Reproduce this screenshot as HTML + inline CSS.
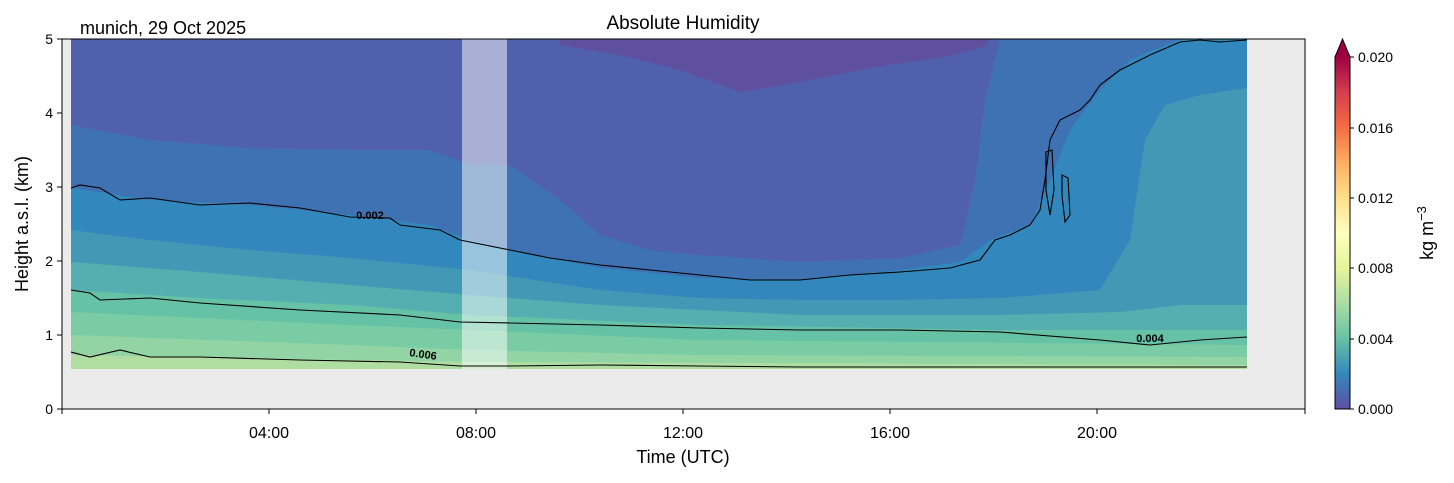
<!DOCTYPE html>
<html><head><meta charset="utf-8"><style>
body{margin:0;background:#fff;}
svg text{font-family:"Liberation Sans","DejaVu Sans",sans-serif;}
</style></head><body>
<svg width="1454" height="478" xmlns="http://www.w3.org/2000/svg">
<defs>
<linearGradient id="cb" x1="0" y1="1" x2="0" y2="0">
<stop offset="0" stop-color="#5e4fa2"/>
<stop offset="0.1" stop-color="#3288bd"/>
<stop offset="0.2" stop-color="#66c2a5"/>
<stop offset="0.3" stop-color="#abdda4"/>
<stop offset="0.4" stop-color="#e6f598"/>
<stop offset="0.5" stop-color="#ffffbf"/>
<stop offset="0.6" stop-color="#fee08b"/>
<stop offset="0.7" stop-color="#fdae61"/>
<stop offset="0.8" stop-color="#f46d43"/>
<stop offset="0.9" stop-color="#d53e4f"/>
<stop offset="1" stop-color="#9e0142"/>
</linearGradient>
<clipPath id="dc"><rect x="71" y="39" width="1176" height="330"/></clipPath>
</defs>
<rect x="62" y="39" width="1243" height="370" fill="#ebebeb"/>
<g clip-path="url(#dc)">
<rect x="71" y="39" width="1176" height="330" fill="#5060ad"/>
<polygon fill="#5f4f9f" points="560,39 560,45 620,55 680,70 740,92 800,82 880,66 950,56 985,46 990,39"/>
<polygon fill="#3f72b3" points="71,369 71,125 150,140 250,148 350,150 430,150 470,165 510,165 560,200 600,235 650,250 700,255 800,262 900,258 960,245 975,180 985,100 1000,39 1247,39 1247,369"/>
<polygon fill="#3288bc" points="71,369 71,188 150,200 250,205 350,215 430,225 470,240 510,250 600,268 700,278 800,280 900,270 960,262 990,240 1030,225 1050,180 1070,130 1100,90 1130,60 1180,39 1247,39 1247,369"/>
<polygon fill="#4399b5" points="71,369 71,230 150,240 250,250 350,258 470,270 600,290 700,298 800,300 900,300 1000,298 1100,290 1130,240 1145,140 1165,105 1200,95 1247,88 1247,369"/>
<polygon fill="#55aeaf" points="71,369 71,262 200,272 350,285 470,295 600,305 800,315 1000,315 1120,312 1180,305 1247,305 1247,369"/>
<polygon fill="#66c2a5" points="71,369 71,290 200,298 350,305 470,315 700,325 1000,330 1247,330 1247,369"/>
<polygon fill="#7acca4" points="71,369 71,312 350,325 470,330 700,340 1247,345 1247,369"/>
<polygon fill="#93d4a4" points="71,369 71,335 350,345 470,350 700,355 1247,357 1247,369"/>
<polygon fill="#b0dea2" points="71,369 71,355 470,362 1247,365 1247,369"/>
<rect x="462" y="39" width="45" height="330" fill="#fff" opacity="0.5"/>
<g fill="none" stroke="#000" stroke-width="1.1">
<polyline points="71,188 80,185 100,188 120,200 150,198 200,205 250,203 300,208 350,217 390,218 400,225 440,230 460,240 510,250 550,258 600,265 650,270 700,275 750,280 800,280 850,275 900,272 950,268 980,260 995,240 1010,235 1030,225 1040,210 1045,180 1050,140 1060,120 1080,110 1090,100 1100,85 1120,70 1150,55 1180,42 1200,40 1220,42 1247,40"/>
<path d="M1046,152 L1052,150 L1054,190 L1050,215 L1046,190 Z"/>
<path d="M1062,175 L1068,178 L1070,215 L1065,222 L1062,195 Z"/>
<polyline points="71,290 90,293 100,300 150,298 200,303 300,310 400,315 460,322 510,323 600,325 700,328 800,330 900,330 1000,332 1100,340 1150,345 1200,340 1247,337"/>
<polyline points="71,352 90,357 120,350 150,357 200,357 300,360 400,362 460,366 510,366 600,365 700,366 800,367 1000,367 1247,367"/>
</g>
<text x="370" y="219" font-size="11" font-weight="bold" text-anchor="middle">0.002</text>
<text x="1150" y="342" font-size="11" font-weight="bold" text-anchor="middle">0.004</text>
<text x="423" y="358" font-size="11" font-weight="bold" text-anchor="middle" transform="rotate(8 423 355)">0.006</text>
</g>
<rect x="62" y="39" width="1243" height="370" fill="none" stroke="#000" stroke-width="1"/>
<g stroke="#000" stroke-width="1">
<line x1="57" y1="409" x2="62" y2="409"/><line x1="57" y1="335" x2="62" y2="335"/><line x1="57" y1="261" x2="62" y2="261"/><line x1="57" y1="187" x2="62" y2="187"/><line x1="57" y1="113" x2="62" y2="113"/><line x1="57" y1="39" x2="62" y2="39"/>
<line x1="62" y1="409" x2="62" y2="414"/><line x1="269" y1="409" x2="269" y2="414"/><line x1="476" y1="409" x2="476" y2="414"/><line x1="683" y1="409" x2="683" y2="414"/><line x1="890" y1="409" x2="890" y2="414"/><line x1="1097" y1="409" x2="1097" y2="414"/><line x1="1305" y1="409" x2="1305" y2="414"/>
</g>
<g font-size="14" text-anchor="end">
<text x="53" y="414">0</text><text x="53" y="340">1</text><text x="53" y="266">2</text><text x="53" y="192">3</text><text x="53" y="118">4</text><text x="53" y="44">5</text>
</g>
<g font-size="16" text-anchor="middle">
<text x="269" y="438">04:00</text><text x="476" y="438">08:00</text><text x="683" y="438">12:00</text><text x="890" y="438">16:00</text><text x="1097" y="438">20:00</text>
</g>
<text x="683" y="463" font-size="18" text-anchor="middle">Time (UTC)</text>
<text x="28" y="224" font-size="18" text-anchor="middle" transform="rotate(-90 28 224)">Height a.s.l. (km)</text>
<text x="683" y="29" font-size="19" text-anchor="middle">Absolute Humidity</text>
<text x="80" y="34" font-size="18">munich, 29 Oct 2025</text>
<rect x="1335" y="57" width="15" height="352" fill="url(#cb)"/>
<polygon points="1335,57 1342.5,39 1350,57" fill="#9e0142"/>
<path d="M1335,409 L1335,57 L1342.5,39 L1350,57 L1350,409 Z" fill="none" stroke="#000" stroke-width="1"/>
<g stroke="#000"><line x1="1350" y1="409" x2="1354" y2="409"/><line x1="1350" y1="339" x2="1354" y2="339"/><line x1="1350" y1="268" x2="1354" y2="268"/><line x1="1350" y1="198" x2="1354" y2="198"/><line x1="1350" y1="128" x2="1354" y2="128"/><line x1="1350" y1="57" x2="1354" y2="57"/></g>
<g font-size="14">
<text x="1358" y="414">0.000</text><text x="1358" y="344">0.004</text><text x="1358" y="273">0.008</text><text x="1358" y="203">0.012</text><text x="1358" y="133">0.016</text><text x="1358" y="62">0.020</text>
</g>
<text x="1433" y="233" font-size="18" text-anchor="middle" transform="rotate(-90 1433 233)">kg m<tspan dy="-7" font-size="13">−3</tspan></text>
</svg>
</body></html>
